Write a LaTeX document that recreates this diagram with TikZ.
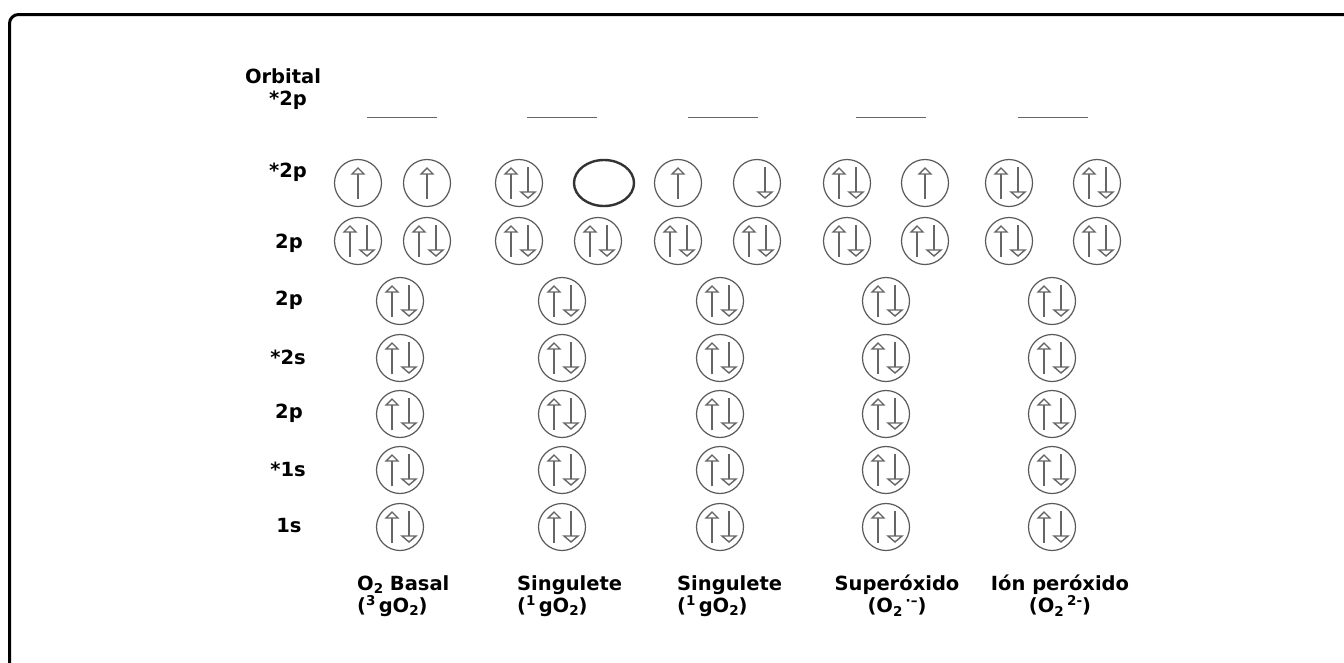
\documentclass[tikz,border=0pt]{standalone}
\usepackage{fontspec}
\setmainfont{DejaVu Sans}
\usetikzlibrary{calc,shapes.geometric}
\newcommand\subs[1]{\raisebox{-0.35ex}{\fontsize{13.5}{13.5}\selectfont #1}}
\newcommand\sups[1]{\raisebox{0.65ex}{\fontsize{13.5}{13.5}\selectfont #1}}
\tikzset{
  lbl/.style={font=\fontsize{19.5}{22}\selectfont\bfseries, inner sep=0},
  orb/.style={draw=black!65, circle, minimum size=47pt, inner sep=0, line width=1.2pt},
  spin/.style={draw=black!60, line width=1.4pt, line join=miter},
  lev/.style={draw=black!60, line width=1pt}
}
\newcommand\spinup[2]{%
  \draw[spin] ($(#1)+(#2,16)$) -- ($(#1)+(#2,-9)$);
  \draw[spin] ($(#1)+(#2-6,-9)$) -- ($(#1)+(#2,-15)$) -- ($(#1)+(#2+6,-9)$) -- cycle;}
\newcommand\spindn[2]{%
  \draw[spin] ($(#1)+(#2,-16)$) -- ($(#1)+(#2,9)$);
  \draw[spin] ($(#1)+(#2-7,9)$) -- ($(#1)+(#2,15)$) -- ($(#1)+(#2+7,9)$) -- cycle;}
\newcommand\pair[1]{\spinup{#1}{-8}\spindn{#1}{9}}
\begin{document}
\begin{tikzpicture}[x=1pt,y=-1pt]
\useasboundingbox (0,0) rectangle (1344,662);
% frame
\draw[line width=3pt, rounded corners=9pt] (9.5,680) -- (9.5,14.5) -- (1360,14.5);
% row labels
\node[lbl] (orbital) at (283,76) {Orbital};
\node[lbl] (r1) at (288,100) {*2p};
\node[lbl] (r2) at (288,172) {*2p};
\node[lbl] (r3) at (289,243) {2p};
\node[lbl] (r4) at (289,300) {2p};
\node[lbl] (r5) at (288,357) {*2s};
\node[lbl] (r6) at (289,413) {2p};
\node[lbl] (r7) at (288,469) {*1s};
\node[lbl] (r8) at (289,526) {1s};
% empty levels
\foreach \c in {402,562,723,891,1053}{\draw[lev] (\c-35,117) -- (\c+35,117);}
% row 2 (*2p)
\node[orb] (a1) at (358,183) {}; \spinup{a1}{0}
\node[orb] (a2) at (427,183) {}; \spinup{a2}{0}
\node[orb] (b1) at (519,183) {}; \pair{b1}
\node[draw=black!80, ellipse, minimum width=60pt, minimum height=46pt, inner sep=0, line width=2.4pt] (b2) at (604,183) {};
\node[orb] (c1) at (678,183) {}; \spinup{c1}{0}
\node[orb] (c2) at (757,183) {}; \spindn{c2}{8}
\node[orb] (d1) at (847,183) {}; \pair{d1}
\node[orb] (d2) at (925,183) {}; \spinup{d2}{0}
\node[orb] (e1) at (1009,183) {}; \pair{e1}
\node[orb] (e2) at (1097,183) {}; \pair{e2}
% row 3 (2p)
\node[orb] (f1) at (358,241) {}; \pair{f1}
\node[orb] (f2) at (427,241) {}; \pair{f2}
\node[orb] (g1) at (519,241) {}; \pair{g1}
\node[orb] (g2) at (598,241) {}; \pair{g2}
\node[orb] (h1) at (678,241) {}; \pair{h1}
\node[orb] (h2) at (757,241) {}; \pair{h2}
\node[orb] (i1) at (847,241) {}; \pair{i1}
\node[orb] (i2) at (925,241) {}; \pair{i2}
\node[orb] (j1) at (1009,241) {}; \pair{j1}
\node[orb] (j2) at (1097,241) {}; \pair{j2}
% lower rows
\foreach \y [count=\r] in {301,358,414,470,527}{
  \foreach \x [count=\k] in {400,562,720,886,1052}{
    \node[orb] (o\r\k) at (\x,\y) {}; \pair{o\r\k}
  }
}
% bottom labels
\node[lbl, align=left, anchor=north west] (n1) at (357,575) {O\subs{2} Basal\\(\sups{3}\,gO\subs{2})};
\node[lbl, align=left, anchor=north west] (n2) at (517,575) {Singulete\\(\sups{1}\,gO\subs{2})};
\node[lbl, align=left, anchor=north west] (n3) at (677,575) {Singulete\\(\sups{1}\,gO\subs{2})};
\node[lbl, align=center, anchor=north] (n4) at (897,575) {Superóxido\\(O\subs{2}\,\sups{·–})};
\node[lbl, align=center, anchor=north] (n5) at (1060,575) {Ión peróxido\\(O\subs{2}\,\sups{2-})};
\end{tikzpicture}
\end{document}
